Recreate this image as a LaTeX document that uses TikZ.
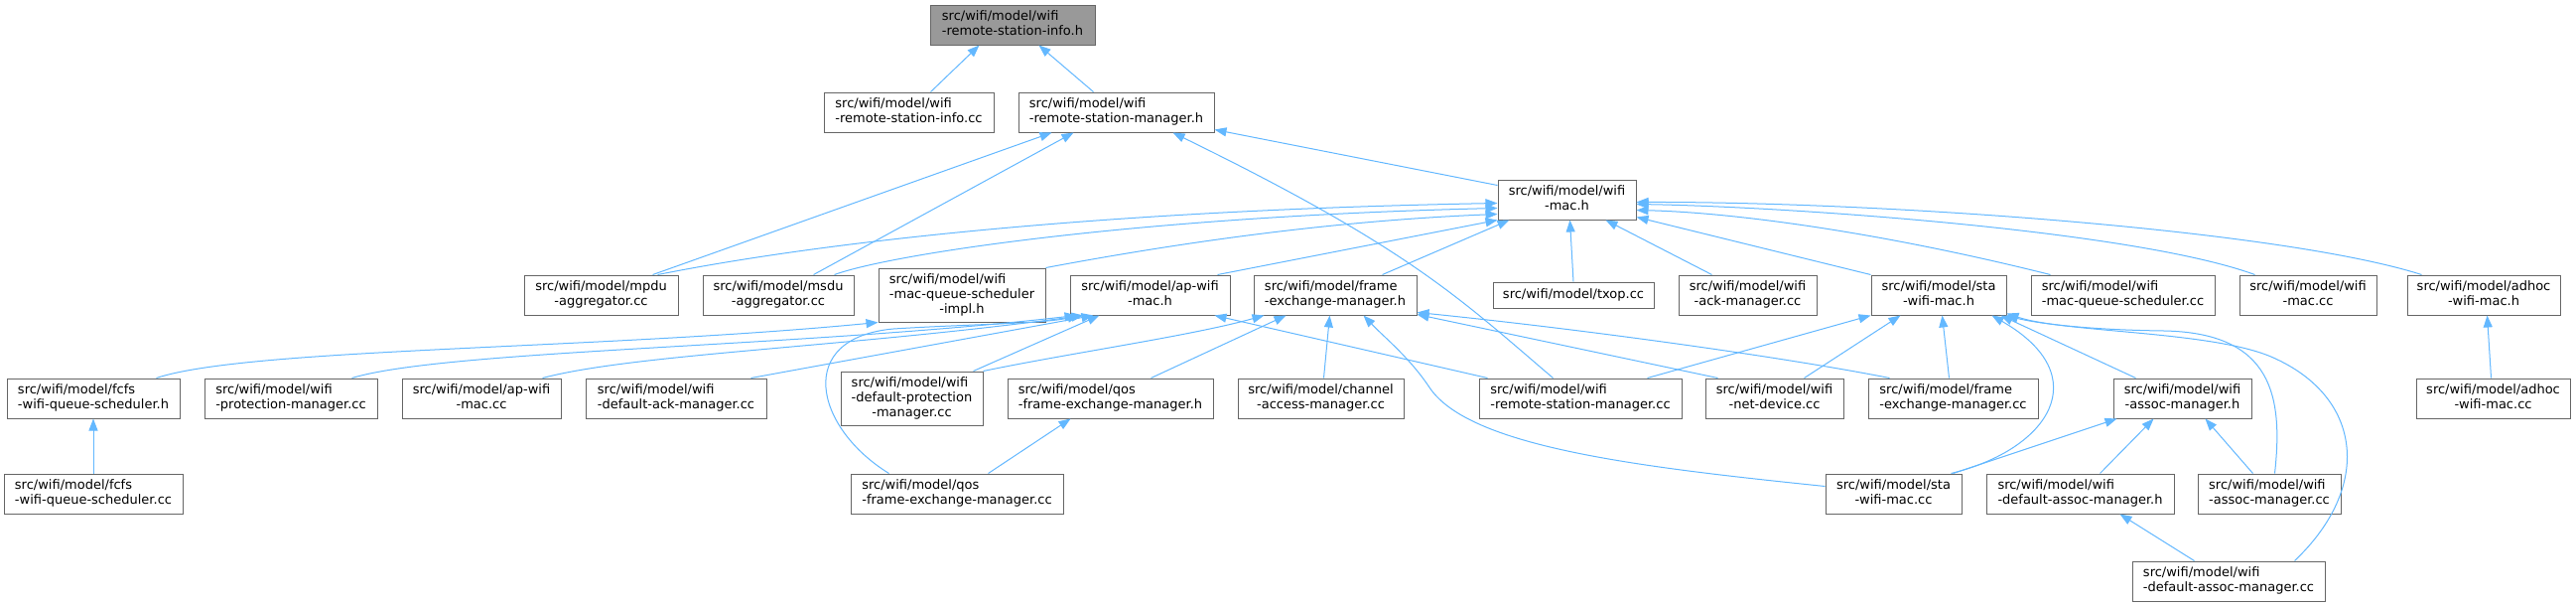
\documentclass[tikz,border=0pt]{standalone}
\usepackage{fontspec}
\setmainfont{DejaVu Sans}
\usetikzlibrary{calc,arrows.meta}
\definecolor{edgec}{HTML}{63B8FF}
\definecolor{bord}{HTML}{666666}
\definecolor{rootf}{HTML}{999999}
\newcommand\lb[2]{\begin{tabular}{@{}l@{}}#1\\\multicolumn{1}{@{}c@{}}{#2}\end{tabular}}
\newcommand\lc[3]{\begin{tabular}{@{}l@{}}#1\\#2\\\multicolumn{1}{@{}c@{}}{#3}\end{tabular}}
\begin{document}
\begin{tikzpicture}[x=1pt,y=-1pt,
  box/.style={draw=bord,fill=white,line width=1pt,inner sep=0pt,minimum height=40pt,font=\fontsize{13}{15}\selectfont},
  tall/.style={box,minimum height=54pt},
  one/.style={box,minimum height=26pt},
  conn/.style={draw=edgec,line width=1pt,-{Triangle[length=12pt,width=9pt]}}]
\useasboundingbox (0,0) rectangle (2595,611);
\fill[white] (0,0) rectangle (2595,611);
% rank 0
\node[box,fill=rootf,minimum width=166pt] (root) at (1020,25) {\lb{src/wifi/model/wifi}{-remote-station-info.h}};
% rank 1
\node[box,minimum width=171pt] (ric) at (915.5,113) {\lb{src/wifi/model/wifi}{-remote-station-info.cc}};
\node[box,minimum width=197pt] (rsm) at (1124.5,113) {\lb{src/wifi/model/wifi}{-remote-station-manager.h}};
% rank 2
\node[box,minimum width=139pt] (wmh) at (1578.5,201) {\lb{src/wifi/model/wifi}{-mac.h}};
% rank 3
\node[box,minimum width=155pt] (mpdu) at (605.5,297) {\lb{src/wifi/model/mpdu}{-aggregator.cc}};
\node[box,minimum width=152pt] (msdu) at (784,297) {\lb{src/wifi/model/msdu}{-aggregator.cc}};
\node[tall,minimum width=168pt] (impl) at (969,297) {\lc{src/wifi/model/wifi}{-mac-queue-scheduler}{-impl.h}};
\node[box,minimum width=161pt] (aph) at (1158.5,297) {\lb{src/wifi/model/ap-wifi}{-mac.h}};
\node[box,minimum width=164pt] (femh) at (1345,297) {\lb{src/wifi/model/frame}{-exchange-manager.h}};
\node[one,minimum width=162pt] (txop) at (1585,297) {src/wifi/model/txop.cc};
\node[box,minimum width=139pt] (ack) at (1760.5,297) {\lb{src/wifi/model/wifi}{-ack-manager.cc}};
\node[box,minimum width=136pt] (stah) at (1953,297) {\lb{src/wifi/model/sta}{-wifi-mac.h}};
\node[box,minimum width=185pt] (mqs) at (2138.5,297) {\lb{src/wifi/model/wifi}{-mac-queue-scheduler.cc}};
\node[box,minimum width=138pt] (wmcc) at (2325,297) {\lb{src/wifi/model/wifi}{-mac.cc}};
\node[box,minimum width=154pt] (adh) at (2502,297) {\lb{src/wifi/model/adhoc}{-wifi-mac.h}};
% rank 4
\node[box,minimum width=174pt] (fcfsh) at (94,401) {\lb{src/wifi/model/fcfs}{-wifi-queue-scheduler.h}};
\node[box,minimum width=174pt] (prot) at (293,401) {\lb{src/wifi/model/wifi}{-protection-manager.cc}};
\node[box,minimum width=160pt] (apcc) at (485,401) {\lb{src/wifi/model/ap-wifi}{-mac.cc}};
\node[box,minimum width=182pt] (dack) at (681,401) {\lb{src/wifi/model/wifi}{-default-ack-manager.cc}};
\node[tall,minimum width=143pt] (dprot) at (918.5,401) {\lc{src/wifi/model/wifi}{-default-protection}{-manager.cc}};
\node[box,minimum width=207pt] (qosh) at (1118.5,401) {\lb{src/wifi/model/qos}{-frame-exchange-manager.h}};
\node[box,minimum width=167pt] (cam) at (1330.5,401) {\lb{src/wifi/model/channel}{-access-manager.cc}};
\node[box,minimum width=204pt] (rsmcc) at (1592,401) {\lb{src/wifi/model/wifi}{-remote-station-manager.cc}};
\node[box,minimum width=139pt] (netdev) at (1787.5,401) {\lb{src/wifi/model/wifi}{-net-device.cc}};
\node[box,minimum width=171pt] (femcc) at (1967.5,401) {\lb{src/wifi/model/frame}{-exchange-manager.cc}};
\node[box,minimum width=139pt] (assoch) at (2198.5,401) {\lb{src/wifi/model/wifi}{-assoc-manager.h}};
\node[box,minimum width=155pt] (adcc) at (2511.5,401) {\lb{src/wifi/model/adhoc}{-wifi-mac.cc}};
% rank 5
\node[box,minimum width=180pt] (fcfscc) at (94,497) {\lb{src/wifi/model/fcfs}{-wifi-queue-scheduler.cc}};
\node[box,minimum width=214pt] (qoscc) at (964,497) {\lb{src/wifi/model/qos}{-frame-exchange-manager.cc}};
\node[box,minimum width=137pt] (stacc) at (1907.5,497) {\lb{src/wifi/model/sta}{-wifi-mac.cc}};
\node[box,minimum width=189pt] (dassoch) at (2095.5,497) {\lb{src/wifi/model/wifi}{-default-assoc-manager.h}};
\node[box,minimum width=144pt] (assoccc) at (2286,497) {\lb{src/wifi/model/wifi}{-assoc-manager.cc}};
% rank 6
\node[box,minimum width=194pt] (dassoccc) at (2245,585) {\lb{src/wifi/model/wifi}{-default-assoc-manager.cc}};
% edges
\draw[conn] ($(ric.north west)+(108,0)$) -- ($(root.south west)+(50,0)$);
\draw[conn] ($(rsm.north west)+(76,0)$) -- ($(root.south west)+(110,0)$);
\draw[conn] ($(mpdu.north west)+(130,0)$) -- ($(rsm.south west)+(34,0)$);
\draw[conn] ($(msdu.north west)+(112,0)$) -- ($(rsm.south west)+(56,0)$);
\draw[conn] ($(wmh.north west)+(0,6)$) -- ($(rsm.south east)+(0,-3)$);
\draw[conn] ($(rsmcc.north west)+(75,0)$) .. controls (1470,300) and (1420,250) .. ($(rsm.south west)+(156,0)$);
\draw[conn] ($(mpdu.north west)+(135,0)$) .. controls (820,245) and (1100,212) .. ($(wmh.north west)+(0,24)$);
\draw[conn] ($(msdu.north west)+(133,0)$) .. controls (900,255) and (1150,218) .. ($(wmh.north west)+(0,29)$);
\draw[conn] (impl.north east) .. controls (1200,242) and (1350,222) .. ($(wmh.north west)+(0,35)$);
\draw[conn] ($(aph.north west)+(149,0)$) -- (wmh.south west);
\draw[conn] ($(femh.north west)+(130,0)$) -- ($(wmh.south west)+(12,0)$);
\draw[conn] (txop.north) -- ($(wmh.south west)+(73,0)$);
\draw[conn] ($(ack.north west)+(34,0)$) -- ($(wmh.south west)+(109,0)$);
\draw[conn] (stah.north west) -- ($(wmh.south east)+(0,-3)$);
\draw[conn] ($(mqs.north west)+(20,0)$) .. controls (1900,235) and (1750,214) .. ($(wmh.north east)+(0,31)$);
\draw[conn] ($(wmcc.north west)+(16,0)$) .. controls (2150,232) and (1800,208) .. ($(wmh.north east)+(0,25)$);
\draw[conn] ($(adh.north west)+(15,0)$) .. controls (2300,232) and (1900,203) .. ($(wmh.north east)+(0,23)$);
\draw[conn] ($(fcfsh.north west)+(151,0)$) .. controls (250,350) and (600,352) .. (impl.south west);
\draw[conn] ($(prot.north west)+(149,0)$) .. controls (450,352) and (800,350) .. ($(aph.south west)+(7,0)$);
\draw[conn] ($(apcc.north west)+(142,0)$) .. controls (640,356) and (850,350) .. ($(aph.south west)+(14,0)$);
\draw[conn] ($(dack.north west)+(167,0)$) -- ($(aph.south west)+(24,0)$);
\draw[conn] ($(dprot.north west)+(134,0)$) -- ($(aph.south west)+(30,0)$);
\draw[conn] ($(qoscc.north west)+(39,0)$) .. controls (820,430) and (800,340) .. (900,331) .. controls (980,326) and (1050,326) .. ($(aph.south west)+(10,0)$);
\draw[conn] ($(rsmcc.north west)+(9,0)$) -- ($(aph.south west)+(146,0)$);
\draw[conn] (dprot.north east) .. controls (1080,355) and (1200,338) .. ($(femh.south west)+(11,0)$);
\draw[conn] ($(qosh.north west)+(145,0)$) -- ($(femh.south west)+(33,0)$);
\draw[conn] ($(cam.north west)+(87,0)$) -- ($(femh.south west)+(77,0)$);
\draw[conn] ($(stacc.north west)+(0,13)$) .. controls (1650,470) and (1480,450) .. (1440,390) .. controls (1420,360) and (1395,340) .. ($(femh.south west)+(111,0)$);
\draw[conn] ($(netdev.north west)+(13,0)$) -- ($(femh.south east)+(0,-1)$);
\draw[conn] ($(femcc.north west)+(22,0)$) .. controls (1800,360) and (1600,332) .. ($(femh.south east)+(0,-3)$);
\draw[conn] ($(rsmcc.north west)+(170,0)$) -- (stah.south west);
\draw[conn] ($(netdev.north west)+(100,0)$) -- ($(stah.south west)+(30,0)$);
\draw[conn] ($(femcc.north west)+(82,0)$) -- ($(stah.south west)+(72,0)$);
\draw[conn] ($(stacc.north west)+(127,0)$) .. controls (2065,452) and (2112,378) .. ($(stah.south west)+(122,0)$);
\draw[conn] ($(assoch.north west)+(23,0)$) -- ($(stah.south west)+(131,0)$);
\draw[conn] ($(assoccc.north west)+(78,0)$) .. controls (2300,400) and (2290,335) .. (2180,333) .. controls (2100,332) and (2050,325) .. ($(stah.south east)+(-1,0)$);
\draw[conn] ($(dassoccc.north west)+(164,0)$) .. controls (2390,490) and (2380,400) .. (2290,360) .. controls (2230,333) and (2080,335) .. ($(stah.south east)+(0,-2)$);
\draw[conn] ($(stacc.north west)+(129,0)$) -- ($(assoch.south west)+(4,0)$);
\draw[conn] ($(dassoch.north west)+(115,0)$) -- ($(assoch.south west)+(41,0)$);
\draw[conn] ($(assoccc.north west)+(56,0)$) -- ($(assoch.south west)+(93,0)$);
\draw[conn] ($(dassoccc.north west)+(63,0)$) -- ($(dassoch.south west)+(135,0)$);
\draw[conn] ($(adcc.north west)+(76,0)$) -- ($(adh.south west)+(81,0)$);
\draw[conn] (fcfscc.north) -- (fcfsh.south);
\draw[conn] ($(qoscc.north west)+(139,0)$) -- ($(qosh.south west)+(64,0)$);
\end{tikzpicture}
\end{document}
